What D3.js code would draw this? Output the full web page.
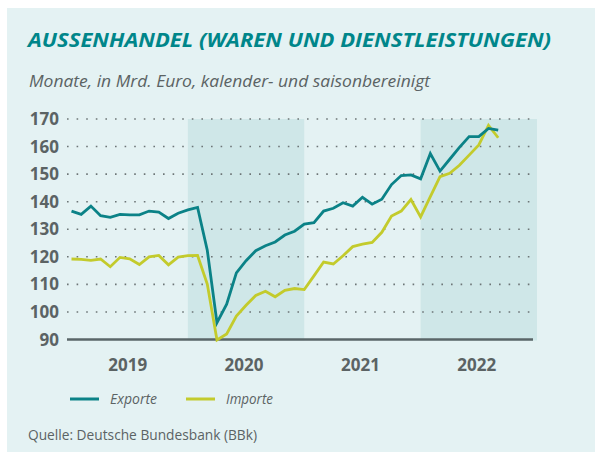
<!DOCTYPE html>
<html>
<head>
<meta charset="utf-8">
<script src="https://cdn.jsdelivr.net/npm/d3@7"></script>
<style>
  body { margin: 0; background: #fff; }
  svg { display: block; }
</style>
</head>
<body>
<svg id="chart"></svg>
<script>
// Données : Jan 2019 – Sep 2022, Mrd. Euro
const years = ["2019", "2020", "2021", "2022"];
const shadedYears = ["2020", "2022"];
const yTicks = [90, 100, 110, 120, 130, 140, 150, 160, 170];

const exporte = [
  136.6, 135.4, 138.4, 134.9, 134.3, 135.4, 135.2, 135.2, 136.6, 136.2, 133.9, 135.8,
  137.0, 137.9, 122.4, 96.1, 102.8, 114.2, 118.6, 122.2, 124.0, 125.4, 127.9, 129.3,
  131.9, 132.4, 136.6, 137.6, 139.6, 138.4, 141.6, 139.1, 140.9, 146.2, 149.5, 149.7,
  148.3, 157.5, 151.1, 155.4, 159.7, 163.6, 163.6, 166.6, 166.0
];
const importe = [
  119.2, 119.1, 118.7, 119.2, 116.4, 119.8, 119.3, 117.2, 120.0, 120.5, 117.1, 119.9,
  120.4, 120.5, 110.1, 89.8, 92.0, 98.5, 102.4, 106.0, 107.5, 105.5, 107.8, 108.5,
  108.1, 113.1, 118.1, 117.4, 120.4, 123.7, 124.6, 125.2, 128.9, 134.8, 136.6, 140.8,
  134.5, 141.8, 149.1, 150.3, 153.2, 156.9, 160.6, 167.7, 163.2
];

const width = 595;
const height = 453;
const font = "Open Sans, Noto Sans, sans-serif";

const svg = d3.select("#chart")
    .attr("width", width)
    .attr("height", height);

// Fond
svg.append("rect")
    .attr("x", 7).attr("y", 8)
    .attr("width", width - 7).attr("height", height - 9)
    .attr("fill", "#e4f2f3");

// Echelles : index de mois
const x = d3.scaleLinear().domain([0, 48]).range([71.5, 537]);
const y = d3.scaleLinear().domain([90, 170]).range([339.5, 119]);

// Bandes grisées pour 2020 et 2022
svg.append("g")
    .selectAll("rect")
    .data(shadedYears)
    .enter()
    .append("rect")
    .attr("x", d => x(years.indexOf(d) * 12))
    .attr("y", y(170))
    .attr("width", d => x(years.indexOf(d) * 12 + 12) - x(years.indexOf(d) * 12))
    .attr("height", y(90) - y(170) + 1)
    .attr("fill", "#cfe7e8");

// Lignes de grille pointillées
const gridX0 = 67, gridX1 = 533;
svg.append("g")
    .selectAll("line")
    .data(yTicks.filter(t => t > 90))
    .enter()
    .append("line")
    .attr("x1", gridX0).attr("x2", gridX1)
    .attr("y1", d => y(d)).attr("y2", d => y(d))
    .attr("stroke", "#6d7677")
    .attr("stroke-width", 1.6)
    .attr("stroke-dasharray", "1.6,8");

// Axe horizontal
svg.append("line")
    .attr("x1", gridX0).attr("x2", gridX1)
    .attr("y1", y(90)).attr("y2", y(90))
    .attr("stroke", "#5a6668")
    .attr("stroke-width", 2.5);

// Etiquettes de l'axe Y
svg.append("g")
    .selectAll("text")
    .data(yTicks)
    .enter()
    .append("text")
    .attr("x", 59)
    .attr("y", d => y(d) + 6)
    .attr("text-anchor", "end")
    .attr("font-family", font)
    .attr("font-weight", "bold")
    .attr("font-size", 17)
    .attr("fill", "#5b6364")
    .text(d => d);

// Etiquettes des années
svg.append("g")
    .selectAll("text")
    .data(years)
    .enter()
    .append("text")
    .attr("x", (d, i) => x(i * 12 + 6) - 2)
    .attr("y", 371)
    .attr("text-anchor", "middle")
    .attr("font-family", font)
    .attr("font-weight", "bold")
    .attr("font-size", 17)
    .attr("fill", "#5b6364")
    .text(d => d);

// Courbes
const line = d3.line()
    .x((d, i) => x(i))
    .y(d => y(d));

svg.append("path")
    .datum(importe)
    .attr("d", line)
    .attr("fill", "none")
    .attr("stroke", "#c3cb2c")
    .attr("stroke-width", 2.8);

svg.append("path")
    .datum(exporte)
    .attr("d", line)
    .attr("fill", "none")
    .attr("stroke", "#0b8287")
    .attr("stroke-width", 2.8);

// Titre et sous-titre
svg.append("text")
    .attr("x", 28).attr("y", 47)
    .attr("font-family", font)
    .attr("font-weight", "bold")
    .attr("font-style", "italic")
    .attr("font-size", 19)
    .attr("fill", "#00868a")
    .attr("textLength", 523)
    .attr("lengthAdjust", "spacingAndGlyphs")
    .text("AUSSENHANDEL (WAREN UND DIENSTLEISTUNGEN)");

svg.append("text")
    .attr("x", 29).attr("y", 87)
    .attr("font-family", font)
    .attr("font-style", "italic")
    .attr("font-size", 15.5)
    .attr("fill", "#5b6364")
    .attr("textLength", 401)
    .attr("lengthAdjust", "spacingAndGlyphs")
    .text("Monate, in Mrd. Euro, kalender- und saisonbereinigt");

// Légende
const legend = [
  { name: "Exporte", color: "#0b8287", x: 70 },
  { name: "Importe", color: "#c3cb2c", x: 186 }
];
const lg = svg.append("g")
    .selectAll("g")
    .data(legend)
    .enter()
    .append("g");
lg.append("line")
    .attr("x1", d => d.x).attr("x2", d => d.x + 29)
    .attr("y1", 399).attr("y2", 399)
    .attr("stroke", d => d.color)
    .attr("stroke-width", 3);
lg.append("text")
    .attr("x", d => d.x + 40)
    .attr("y", 404)
    .attr("font-family", font)
    .attr("font-style", "italic")
    .attr("font-size", 14.5)
    .attr("fill", "#5b6364")
    .attr("textLength", 47)
    .attr("lengthAdjust", "spacingAndGlyphs")
    .text(d => d.name);

// Source
svg.append("text")
    .attr("x", 28).attr("y", 440)
    .attr("font-family", font)
    .attr("font-size", 14.5)
    .attr("fill", "#5b6364")
    .attr("textLength", 229)
    .attr("lengthAdjust", "spacingAndGlyphs")
    .text("Quelle: Deutsche Bundesbank (BBk)");
</script>
</body>
</html>
